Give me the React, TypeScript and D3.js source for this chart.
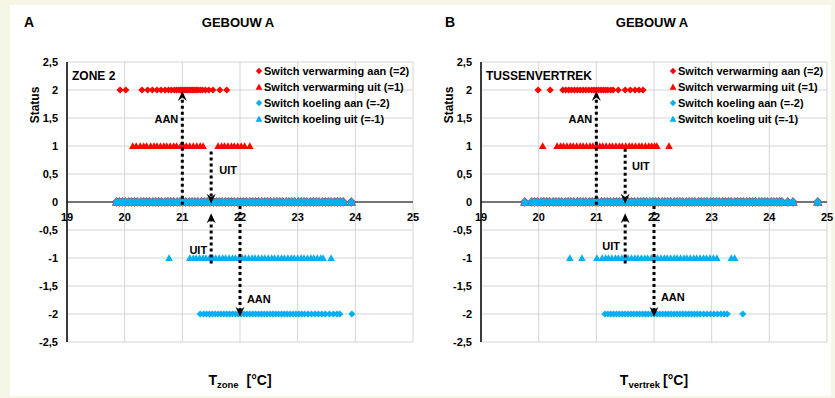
import React from 'react'
import * as d3 from 'd3'

// temperatures (°C) where a switch event was logged, per status value
const zoneHeatOn = [19.92, 20.02, 20.30, 20.40, 20.48, 20.56, 20.63, 20.70, 20.76, 20.81, 20.86, 20.90, 20.94, 20.97, 21.00, 21.03, 21.06, 21.09, 21.12, 21.15, 21.18, 21.21, 21.24, 21.27, 21.31, 21.35, 21.40, 21.46, 21.53, 21.65, 21.77]
const zoneHeatOff = [20.14, 20.20, 20.27, 20.33, 20.38, 20.45, 20.51, 20.56, 20.62, 20.68, 20.73, 20.79, 20.85, 20.90, 20.97, 21.02, 21.07, 21.13, 21.19, 21.25, 21.31, 21.36, 21.62, 21.68, 21.73, 21.79, 21.85, 21.90, 21.96, 22.02, 22.08, 22.17]
const zoneIdle = [19.86, 19.91, 19.96, 20.01, 20.07, 20.12, 20.17, 20.22, 20.28, 20.33, 20.38, 20.43, 20.49, 20.54, 20.59, 20.64, 20.70, 20.75, 20.80, 20.85, 20.91, 20.96, 21.01, 21.06, 21.12, 21.17, 21.22, 21.27, 21.33, 21.38, 21.43, 21.48, 21.54, 21.59, 21.64, 21.69, 21.75, 21.80, 21.85, 21.90, 21.96, 22.01, 22.06, 22.11, 22.17, 22.22, 22.27, 22.32, 22.38, 22.43, 22.48, 22.53, 22.59, 22.64, 22.69, 22.74, 22.80, 22.85, 22.90, 22.95, 23.01, 23.06, 23.11, 23.16, 23.22, 23.27, 23.32, 23.37, 23.43, 23.48, 23.53, 23.58, 23.64, 23.69, 23.74, 23.79, 23.93]
const zoneCoolOff = [20.77, 21.13, 21.19, 21.24, 21.30, 21.36, 21.41, 21.47, 21.53, 21.58, 21.64, 21.70, 21.75, 21.81, 21.87, 21.92, 21.98, 22.04, 22.09, 22.15, 22.21, 22.26, 22.32, 22.38, 22.43, 22.49, 22.55, 22.60, 22.66, 22.72, 22.77, 22.83, 22.89, 22.94, 23.00, 23.06, 23.11, 23.17, 23.23, 23.28, 23.34, 23.40, 23.44, 23.58]
const zoneCoolOn = [21.31, 21.37, 21.42, 21.47, 21.52, 21.57, 21.62, 21.67, 21.72, 21.77, 21.82, 21.87, 21.92, 21.97, 22.02, 22.07, 22.12, 22.17, 22.22, 22.27, 22.32, 22.37, 22.42, 22.47, 22.52, 22.57, 22.62, 22.67, 22.72, 22.77, 22.82, 22.87, 22.92, 22.97, 23.02, 23.07, 23.12, 23.18, 23.24, 23.30, 23.36, 23.42, 23.48, 23.55, 23.62, 23.68, 23.73, 23.94]

const roomHeatOn = [19.99, 20.20, 20.42, 20.47, 20.52, 20.57, 20.62, 20.67, 20.72, 20.77, 20.82, 20.87, 20.92, 20.96, 21.00, 21.04, 21.08, 21.12, 21.16, 21.20, 21.25, 21.29, 21.38, 21.50, 21.59, 21.67, 21.74, 21.81]
const roomHeatOff = [20.07, 20.32, 20.38, 20.43, 20.49, 20.55, 20.60, 20.66, 20.72, 20.77, 20.83, 20.89, 20.94, 21.00, 21.06, 21.11, 21.17, 21.23, 21.28, 21.34, 21.40, 21.45, 21.51, 21.57, 21.62, 21.68, 21.74, 21.79, 21.85, 21.91, 21.96, 22.01, 22.05, 22.26]
const roomIdle = [19.76, 19.88, 19.93, 19.98, 20.04, 20.09, 20.14, 20.19, 20.25, 20.30, 20.35, 20.40, 20.46, 20.51, 20.56, 20.61, 20.67, 20.72, 20.77, 20.82, 20.88, 20.93, 20.98, 21.03, 21.09, 21.14, 21.19, 21.24, 21.30, 21.35, 21.40, 21.45, 21.51, 21.56, 21.61, 21.66, 21.72, 21.77, 21.82, 21.87, 21.93, 21.98, 22.03, 22.08, 22.14, 22.19, 22.24, 22.29, 22.35, 22.40, 22.45, 22.50, 22.56, 22.61, 22.66, 22.71, 22.77, 22.82, 22.87, 22.92, 22.98, 23.03, 23.08, 23.13, 23.19, 23.24, 23.29, 23.34, 23.40, 23.45, 23.50, 23.55, 23.61, 23.66, 23.71, 23.76, 23.82, 23.87, 23.92, 23.97, 24.03, 24.08, 24.13, 24.18, 24.22, 24.32, 24.41, 24.84]
const roomCoolOff = [20.54, 20.75, 21.01, 21.10, 21.16, 21.21, 21.27, 21.33, 21.38, 21.44, 21.50, 21.55, 21.61, 21.67, 21.72, 21.78, 21.84, 21.89, 21.95, 22.01, 22.06, 22.12, 22.18, 22.23, 22.29, 22.35, 22.40, 22.46, 22.52, 22.57, 22.63, 22.69, 22.74, 22.80, 22.86, 22.91, 22.97, 23.03, 23.09, 23.34, 23.40]
const roomCoolOn = [21.15, 21.20, 21.25, 21.30, 21.35, 21.40, 21.45, 21.50, 21.55, 21.60, 21.65, 21.70, 21.75, 21.80, 21.85, 21.90, 21.95, 22.00, 22.05, 22.10, 22.15, 22.20, 22.25, 22.30, 22.35, 22.40, 22.45, 22.50, 22.55, 22.60, 22.65, 22.70, 22.75, 22.80, 22.86, 22.92, 22.98, 23.04, 23.10, 23.16, 23.22, 23.27, 23.54]

const xTicks = [19, 20, 21, 22, 23, 24, 25]
const yTicks = [2.5, 2, 1.5, 1, 0.5, 0, -0.5, -1, -1.5, -2, -2.5]
const yTickLabels = ['2,5', '2', '1,5', '1', '0,5', '0', '-0,5', '-1', '-1,5', '-2', '-2,5']
const legendNames = ['Switch verwarming aan (=2)', 'Switch verwarming uit (=1)', 'Switch koeling aan (=-2)', 'Switch koeling uit (=-1)']

// dotted arrows: x, from y0 to tip y1 ; labels
const zoneArrows = [
  { x: 21, y0: -0.05, y1: 1.98, text: 'AAN', tx: 20.93, ty: 1.41, anchor: 'end' },
  { x: 21.5, y0: 0.9, y1: -0.03, text: 'UIT', tx: 21.64, ty: 0.5, anchor: 'start' },
  { x: 21.5, y0: -1.1, y1: -0.2, text: 'UIT', tx: 21.43, ty: -0.93, anchor: 'end' },
  { x: 22, y0: -0.07, y1: -2.05, text: 'AAN', tx: 22.12, ty: -1.8, anchor: 'start' },
]
const roomArrows = [
  { x: 21, y0: -0.05, y1: 1.98, text: 'AAN', tx: 20.93, ty: 1.41, anchor: 'end' },
  { x: 21.5, y0: 0.95, y1: -0.03, text: 'UIT', tx: 21.62, ty: 0.57, anchor: 'start' },
  { x: 21.5, y0: -1.1, y1: -0.2, text: 'UIT', tx: 21.41, ty: -0.86, anchor: 'end' },
  { x: 22, y0: -0.07, y1: -2.05, text: 'AAN', tx: 22.12, ty: -1.77, anchor: 'start' },
]

const RED = '#ff0000', BLUE = '#00b0f0'
const FONT = '"Liberation Sans", Arial, sans-serif'

const diamond = (s: number) => `M0,${-s}L${s},0L0,${s}L${-s},0Z`
const triangle = (s: number) => `M0,${-s}L${s},${s * 0.8}L${-s},${s * 0.8}Z`

function Panel({ ox, letter, letterX, zone, heatOn, heatOff, idle, coolOff, coolOn, sub, arrows }: any) {
  const x = d3.scaleLinear().domain([19, 25]).range([ox + 67, ox + 413])
  const y = d3.scaleLinear().domain([-2.5, 2.5]).range([342, 62])
  const markers = (vals: number[], st: number, col: string, path: string, key: string) =>
    vals.map((v, i) => <path key={key + i} d={path} fill={col} transform={`translate(${x(v)},${y(st)})`} />)
  return (
    <g fontFamily={FONT} fontWeight="bold">
      <text x={ox + letterX} y={27} fontSize={14}>{letter}</text>
      <text x={ox + 238} y={27} fontSize={13} textAnchor="middle">GEBOUW A</text>
      {xTicks.map(t => <line key={'gx' + t} x1={x(t)} x2={x(t)} y1={y(2.5)} y2={y(-2.5)} stroke="#d4d4d4" />)}
      {yTicks.map(t => <line key={'gy' + t} x1={x(19)} x2={x(25)} y1={y(t)} y2={y(t)} stroke="#d4d4d4" />)}
      <line x1={x(19)} x2={x(19)} y1={y(2.5)} y2={y(-2.5)} stroke="#000" strokeWidth={1.5} />
      <line x1={x(19)} x2={x(25)} y1={y(0)} y2={y(0)} stroke="#000" strokeWidth={1.2} />
      {yTicks.map((t, i) => <text key={'ly' + t} x={ox + 58} y={y(t)} dy="0.36em" fontSize={11} textAnchor="end">{yTickLabels[i]}</text>)}
      {xTicks.map(t => <text key={'lx' + t} x={x(t)} y={y(0) + 19} fontSize={11} textAnchor="middle">{t}</text>)}
      <text transform={`translate(${ox + 39},105) rotate(-90)`} fontSize={12} textAnchor="middle">Status</text>
      <text x={ox + 72} y={80} fontSize={12}>{zone}</text>

      {markers(heatOn, 2, RED, diamond(3.6), 'a')}
      {markers(heatOff, 1, RED, triangle(3.8), 'b')}
      {markers(idle, 0, RED, diamond(4.8), 'c')}
      {markers(idle, 0, RED, triangle(4.8), 'd')}
      {markers(coolOn, -2, BLUE, diamond(3.6), 'e')}
      {markers(coolOff, -1, BLUE, triangle(3.8), 'f')}
      {markers(idle, 0, BLUE, diamond(4.3), 'g')}
      {markers(idle, 0, BLUE, triangle(4.3), 'h')}

      {arrows.map((a: any, i: number) => {
        const px = x(a.x), p0 = y(a.y0), p1 = y(a.y1)
        const dir = p1 < p0 ? 1 : -1
        return (
          <g key={'ar' + i}>
            <line x1={px} x2={px} y1={p0} y2={p1 + dir * 6} stroke="#000" strokeWidth={3} strokeDasharray="3 3" />
            <path d={`M${px},${p1}L${px + 4.5},${p1 + dir * 10}L${px},${p1 + dir * 6.5}L${px - 4.5},${p1 + dir * 10}Z`} fill="#000" />
            <text x={x(a.tx)} y={y(a.ty)} fontSize={11} textAnchor={a.anchor}>{a.text}</text>
          </g>
        )
      })}

      {legendNames.map((n, i) => (
        <g key={'lg' + i} transform={`translate(${ox + 259},${71 + i * 16})`}>
          <path d={i % 2 === 0 ? diamond(3.2) : triangle(3.4)} fill={i < 2 ? RED : BLUE} />
          <text x={5} dy="0.36em" fontSize={11}>{n}</text>
        </g>
      ))}

      <text x={ox + 240} y={385} fontSize={14} textAnchor="middle">
        T<tspan fontSize={9.5} dy={3}>{sub}</tspan><tspan dy={-3} dx={sub === 'zone' ? 8 : 3}>[°C]</tspan>
      </text>
    </g>
  )
}

export default function App() {
  return (
    <svg width={835} height={398} style={{ position: 'absolute', left: 0, top: 0 }}>
      <rect width={835} height={398} fill="#f6f6e6" />
      <rect x={10} y={5} width={821} height={391} fill="#fff" />
      <Panel ox={0} letter="A" letterX={24} zone="ZONE 2" heatOn={zoneHeatOn} heatOff={zoneHeatOff} idle={zoneIdle}
        coolOff={zoneCoolOff} coolOn={zoneCoolOn} sub="zone" arrows={zoneArrows} />
      <Panel ox={414} letter="B" letterX={31} zone="TUSSENVERTREK" heatOn={roomHeatOn} heatOff={roomHeatOff} idle={roomIdle}
        coolOff={roomCoolOff} coolOn={roomCoolOn} sub="vertrek" arrows={roomArrows} />
    </svg>
  )
}
